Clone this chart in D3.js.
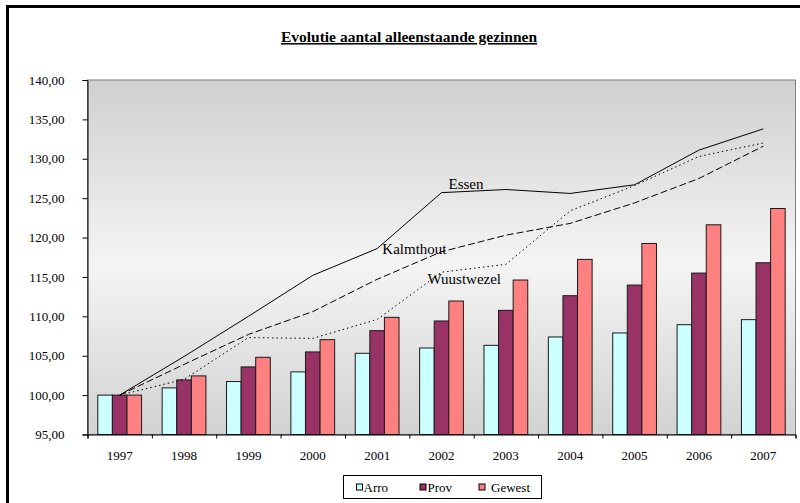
<!DOCTYPE html>
<html>
<head>
<meta charset="utf-8">
<script src="https://cdn.jsdelivr.net/npm/d3@7"></script>
<style>
  body { margin: 0; background: #fff; }
  svg { display: block; font-family: "Liberation Serif", "Times New Roman", serif; }
</style>
</head>
<body>
<div id="chart" style="width:800px;height:503px"></div>
<script>
// values (index 1997 = 100)
const years = ['1997', '1998', '1999', '2000', '2001', '2002', '2003', '2004', '2005', '2006', '2007'];
const barSeries = ['Arro', 'Prov', 'Gewest'];
const arro   = [100, 100.92, 101.72, 102.95, 105.31, 105.98, 106.32, 107.38, 107.89, 108.94, 109.58];
const prov   = [100, 101.93, 103.58, 105.48, 108.18, 109.41, 110.76, 112.62, 113.97, 115.49, 116.80];
const gewest = [100, 102.44, 104.80, 107.04, 109.87, 111.94, 114.61, 117.23, 119.25, 121.62, 123.69];
const lineSeries = ['Essen', 'Kalmthout', 'Wuustwezel'];
const essen      = [100, 104.9, 110.0, 115.2, 118.6, 125.7, 126.1, 125.6, 126.7, 131.1, 133.8];
const kalmthout  = [100, 103.9, 107.7, 110.6, 114.7, 118.2, 120.3, 121.8, 124.4, 127.5, 131.6];
const wuustwezel = [100, 102.0, 107.3, 107.2, 109.6, 115.6, 116.6, 123.4, 126.6, 130.3, 132.0];
const yTicks = [95, 100, 105, 110, 115, 120, 125, 130, 135, 140];
const title = 'Evolutie aantal alleenstaande gezinnen';

const barValues = {Arro: arro, Prov: prov, Gewest: gewest};
const lineValues = {Essen: essen, Kalmthout: kalmthout, Wuustwezel: wuustwezel};
const barColors = {Arro: '#CCFFFF', Prov: '#993366', Gewest: '#FF8080'};
const dashes = {Essen: null, Kalmthout: '7,3', Wuustwezel: '1.5,3'};

const margin = {top: 80, right: 4.5, bottom: 68.5, left: 87.5};
const W = 800, H = 503;
const width = W - margin.left - margin.right;
const height = H - margin.top - margin.bottom;

const svg = d3.select('#chart').append('svg')
  .attr('width', W)
  .attr('height', H);

// outer chart frame
svg.append('rect')
  .attr('x', 7.5).attr('y', 6.5)
  .attr('width', 900).attr('height', 600)
  .attr('fill', 'none').attr('stroke', '#000').attr('stroke-width', 3);

svg.append('text')
  .attr('x', 409).attr('y', 42)
  .attr('text-anchor', 'middle')
  .style('font-size', '15.5px').style('font-weight', 'bold')
  .style('text-decoration', 'underline')
  .text(title);

// background gradient of the plot area
const grad = svg.append('defs').append('linearGradient')
  .attr('id', 'bg').attr('x1', 0).attr('x2', 0).attr('y1', 0).attr('y2', 1);
grad.append('stop').attr('offset', '0%').attr('stop-color', '#d0d0d0');
grad.append('stop').attr('offset', '52%').attr('stop-color', '#f4f4f4');
grad.append('stop').attr('offset', '100%').attr('stop-color', '#d2d2d2');

const g = svg.append('g')
  .attr('transform', 'translate(' + margin.left + ',' + margin.top + ')');

g.append('rect')
  .attr('width', width).attr('height', height)
  .attr('fill', 'url(#bg)')
  .attr('stroke', '#808080').attr('stroke-width', 1);

// scales
const xStep = d3.scaleBand().domain(years).range([0, width]).padding(0);
const x0 = d3.scaleBand().domain(years).range([0, width])
  .paddingInner(0.32).paddingOuter(0.16);
const x1 = d3.scaleBand().domain(barSeries).range([0, x0.bandwidth()]);
const y = d3.scaleLinear().domain([95, 140]).range([height, 0]);

// bars
const groups = g.append('g').selectAll('g')
  .data(years)
  .enter().append('g')
    .attr('transform', d => 'translate(' + x0(d) + ',0)');

groups.selectAll('rect')
  .data((yr, i) => barSeries.map(s => ({series: s, value: barValues[s][i]})))
  .enter().append('rect')
    .attr('x', d => x1(d.series))
    .attr('y', d => y(d.value))
    .attr('width', x1.bandwidth())
    .attr('height', d => height - y(d.value))
    .attr('fill', d => barColors[d.series])
    .attr('stroke', '#1a1a1a')
    .attr('stroke-width', 1);

// lines
const line = d3.line()
  .x((d, i) => xStep(years[i]) + xStep.bandwidth() / 2)
  .y(d => y(d));

lineSeries.forEach(s => {
  g.append('path')
    .datum(lineValues[s])
    .attr('d', line)
    .attr('fill', 'none')
    .attr('stroke', '#000')
    .attr('stroke-width', 1)
    .attr('stroke-dasharray', dashes[s]);
});

// line labels, anchored on the 2002 points
const px = yr => xStep(yr) + xStep.bandwidth() / 2;
const i02 = years.indexOf('2002');
g.append('text')
  .attr('x', px('2002') + 7).attr('y', y(essen[i02]) - 4)
  .style('font-size', '15px').text('Essen');
g.append('text')
  .attr('x', px('2002') + 5).attr('y', y(kalmthout[i02]) + 2)
  .attr('text-anchor', 'end')
  .style('font-size', '15px').text('Kalmthout');
g.append('text')
  .attr('x', px('2002') - 14).attr('y', y(wuustwezel[i02]) + 12)
  .style('font-size', '15px').text('Wuustwezel');

// y axis
const yAxis = g.append('g')
  .call(d3.axisLeft(y)
    .tickValues(yTicks)
    .tickSize(5)
    .tickPadding(18)
    .tickFormat(d => d3.format('.2f')(d).replace('.', ',')));
yAxis.select('.domain').attr('stroke', '#000');
yAxis.selectAll('text').style('font-size', '13px').style('font-family', '"Liberation Serif", serif').attr('fill', '#000');

// x axis: boundary ticks + category labels
const xb = d3.scaleLinear().domain([0, years.length]).range([0, width]);
g.append('g')
  .attr('transform', 'translate(0,' + height + ')')
  .call(d3.axisBottom(xb).ticks(years.length).tickSize(4).tickFormat(''))
  .select('.domain').attr('stroke', '#000');

const xAxis = g.append('g')
  .attr('transform', 'translate(0,' + height + ')')
  .call(d3.axisBottom(xStep).tickSize(0).tickPadding(16));
xAxis.select('.domain').remove();
xAxis.selectAll('text').style('font-size', '13px').style('font-family', '"Liberation Serif", serif').attr('fill', '#000');

// legend
const legend = svg.append('g').attr('transform', 'translate(343.5,475.5)');
legend.append('rect')
  .attr('width', 198).attr('height', 23)
  .attr('fill', '#fff').attr('stroke', '#000').attr('stroke-width', 1);
const itemX = [13, 76.5, 135.5];
const textX = [20, 84, 147.5];
barSeries.forEach((s, i) => {
  legend.append('rect')
    .attr('x', itemX[i]).attr('y', 8.5)
    .attr('width', 6).attr('height', 6)
    .attr('fill', barColors[s]).attr('stroke', '#000');
  legend.append('text')
    .attr('x', textX[i]).attr('y', 16.5)
    .style('font-size', '13px').text(s);
});
</script>
</body>
</html>
